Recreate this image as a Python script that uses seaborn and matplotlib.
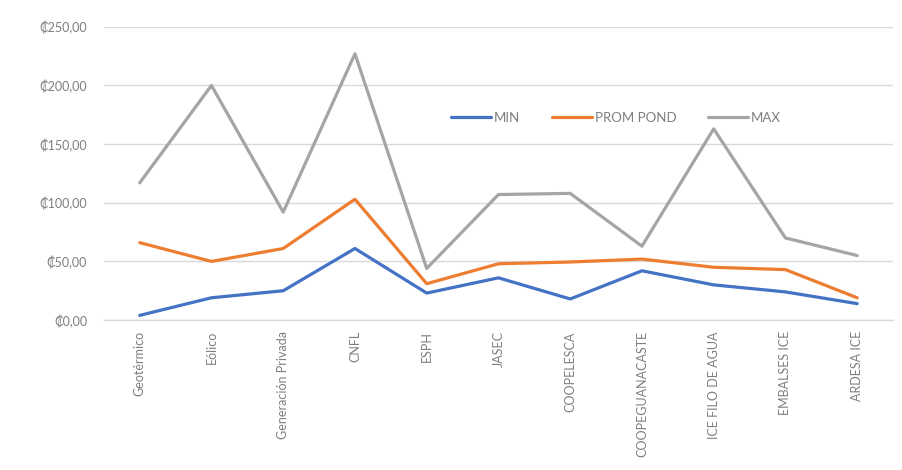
import pandas as pd
import matplotlib.pyplot as plt
import seaborn as sns
from matplotlib.ticker import FuncFormatter

# Values
categories = ['Geotérmico', 'Eólico', 'Generación Privada', 'CNFL', 'ESPH', 'JASEC',
              'COOPELESCA', 'COOPEGUANACASTE', 'ICE FILO DE AGUA', 'EMBALSES ICE', 'ARDESA ICE']
min_vals = [4, 19, 25, 61, 23, 36, 18, 42, 30, 24, 14]
prom_vals = [66, 50, 61, 103, 31, 48, 49.5, 52, 45, 43, 19]
max_vals = [117, 200, 92, 227, 44, 107, 108, 63, 163, 70, 55]
series_names = ['MIN', 'PROM POND', 'MAX']
y_ticks = [0, 50, 100, 150, 200, 250]

rows = []
for name, vals in zip(series_names, [min_vals, prom_vals, max_vals]):
    for i, (cat, v) in enumerate(zip(categories, vals)):
        rows.append({'idx': i, 'Categoria': cat, 'Serie': name, 'Valor': v})
df = pd.DataFrame(rows)

sns.set_style('white')
plt.rcParams['font.family'] = ['Lato', 'DejaVu Sans']
text_color = '#7f7f7f'

fig = plt.figure(figsize=(9.03, 4.70), dpi=100)
ax = fig.add_axes([0.115, 0.319, 0.874, 0.624])

palette = {'MIN': '#4472C4', 'PROM POND': '#ED7D31', 'MAX': '#A5A5A5'}
sns.lineplot(data=df, x='idx', y='Valor', hue='Serie', hue_order=series_names,
             palette=palette, linewidth=2.3, ax=ax)

ax.set_xlim(-0.5, len(categories) - 0.5)
ax.set_ylim(0, 250)
ax.set_yticks(y_ticks)
ax.yaxis.set_major_formatter(FuncFormatter(lambda v, p: '₡' + f'{v:.2f}'.replace('.', ',')))
ax.set_xticks(range(len(categories)))
ax.set_xticklabels(categories, rotation=90, fontsize=9, color=text_color)
ax.tick_params(axis='y', labelsize=9, labelcolor=text_color, length=0, pad=12)
ax.tick_params(axis='x', length=0, pad=8)
ax.set_xlabel('')
ax.set_ylabel('')

ax.grid(axis='y', color='#d9d9d9', linewidth=1)
ax.set_axisbelow(True)
for s in ['top', 'right', 'left']:
    ax.spines[s].set_visible(False)
ax.spines['bottom'].set_color('#d9d9d9')
ax.spines['bottom'].set_linewidth(1)

leg = ax.legend(loc='upper left', bbox_to_anchor=(0.425, 0.75), ncol=3, frameon=False,
                fontsize=9.5, handlelength=3.0, handletextpad=0.25, columnspacing=2.4)
for t in leg.get_texts():
    t.set_color(text_color)

fig.savefig('out.png', dpi=100, facecolor='white')
